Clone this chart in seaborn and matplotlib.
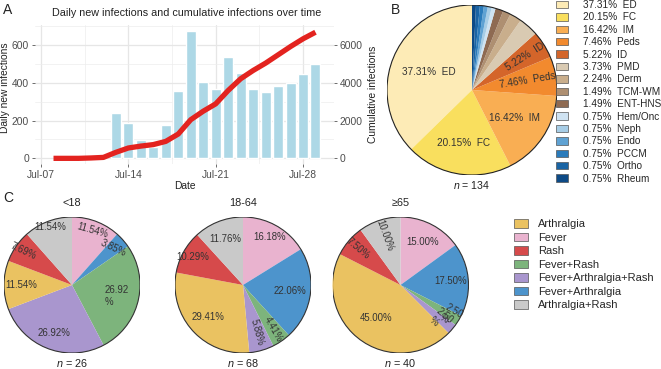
import numpy as np
import pandas as pd
import matplotlib
matplotlib.use("Agg")
import matplotlib.pyplot as plt
import seaborn as sns
from matplotlib.patches import Patch, Circle

# ---- data -------------------------------------------------------------
# panel A (day of July)
days_daily = list(range(13, 30))
daily_new = [241, 188, 98, 62, 177, 356, 673, 407, 368, 536, 452, 368, 351, 384, 400, 450, 498]
days_cum = list(range(8, 30))
cum_infections = [0, 0, 0, 20, 50, 320, 550, 650, 730, 900, 1290, 2050, 2500, 2890,
                  3600, 4220, 4660, 5050, 5490, 5930, 6340, 6690]
date_ticks = [7, 14, 21, 28]
date_labels = ["Jul-07", "Jul-14", "Jul-21", "Jul-28"]

# panel B (departments, n = 134)
dept_names = ["ED", "FC", "IM", "Peds", "ID", "PMD", "Derm", "TCM-WM", "ENT-HNS",
              "Hem/Onc", "Neph", "Endo", "PCCM", "Ortho", "Rheum"]
dept_counts = [50, 27, 22, 10, 7, 5, 3, 2, 2, 1, 1, 1, 1, 1, 1]
dept_colors = ["#FDEBB6", "#F9DF5E", "#F9AE53", "#F28A2E", "#D4652A", "#D9CAB2",
               "#C9AE8C", "#AE8F71", "#8E6A52", "#CFE3F2", "#A7CDE6", "#5FA2D3",
               "#2A7BBB", "#1A64A4", "#0D4A86"]

# panel C (symptoms by age group)
symptoms = ["Arthralgia", "Fever", "Rash", "Fever+Rash", "Fever+Arthralgia+Rash",
            "Fever+Arthralgia", "Arthralgia+Rash"]
symptom_colors = ["#EAC261", "#E9B3CF", "#D64A4B", "#7DB47C", "#A996CE", "#4D94CC", "#C9C9C9"]
age_groups = ["<18", "18-64", "≥65"]
counts_lt18 = [3, 3, 2, 7, 7, 1, 3]
counts_18_64 = [20, 11, 7, 3, 4, 15, 8]
counts_ge65 = [18, 6, 3, 1, 1, 7, 4]
pie_order = ["Fever", "Fever+Arthralgia", "Fever+Rash", "Fever+Arthralgia+Rash",
             "Arthralgia", "Rash", "Arthralgia+Rash"]

# ---- style ------------------------------------------------------------
sns.set_theme(style="white")
plt.rcParams["font.family"] = ["Liberation Sans", "DejaVu Sans"]
plt.rcParams["mathtext.fontset"] = "custom"
plt.rcParams["mathtext.it"] = "Liberation Sans:italic"
plt.rcParams["mathtext.rm"] = "Liberation Sans"

W, H = 661, 369
fig = plt.figure(figsize=(W / 100, H / 100), dpi=100)


def box(x0, y0, x1, y1):
    # pixel box (top-left origin) -> figure fraction
    return [x0 / W, 1 - y1 / H, (x1 - x0) / W, (y1 - y0) / H]


FS = 7.4
TXT = "#222222"

# ---- panel A ----------------------------------------------------------
ax = fig.add_axes(box(34.8, 24.5, 334.2, 164))
df_daily = pd.DataFrame({"day": days_daily, "new": daily_new})
sns.barplot(data=df_daily, x="day", y="new", native_scale=True, color="#ADD8E6",
            saturation=1, width=0.8, errorbar=None, ax=ax)
ax2 = ax.twinx()
sns.lineplot(x=days_cum, y=cum_infections, color="#E3231F", lw=3.8, ax=ax2,
             solid_capstyle="butt", solid_joinstyle="round")

ax.set_xlim(6.5, 30.5)
ax.set_ylim(-30, 710)
ax2.set_ylim(-300, 7100)
ax.set_xticks(date_ticks)
ax.set_xticklabels(date_labels)
ax.set_xticks([10.5, 17.5, 24.5], minor=True)
ax.set_yticks([0, 200, 400, 600])
ax.set_yticks([100, 300, 500, 700], minor=True)
ax2.set_yticks([0, 2000, 4000, 6000])
ax.grid(which="major", color="#E6E6E6", lw=0.9)
ax.grid(which="minor", color="#EDEDED", lw=0.5)
ax.set_axisbelow(True)
ax2.grid(False)
for a in (ax, ax2):
    for s in a.spines.values():
        s.set_visible(False)
    a.tick_params(which="major", length=2.5, width=0.6, color="#555555", pad=1.5,
                  labelsize=FS, labelcolor="#4D4D4D")
    a.tick_params(which="minor", length=0)
ax.tick_params(axis="x", bottom=True)
ax.tick_params(axis="y", left=True)
ax2.tick_params(axis="y", right=True)
ax.set_xlabel("Date", fontsize=FS, color=TXT, labelpad=1)
ax.set_ylabel("Daily new infections", fontsize=FS, color=TXT)
ax.yaxis.set_label_coords((10 - 34.8) / 299.4, 0.55)
ax2.set_ylabel("Cumulative infections", fontsize=FS, color=TXT, labelpad=4)
fig.text(187 / W, 1 - 13 / H, "Daily new infections and cumulative infections over time",
         fontsize=7.75, color=TXT, ha="center", va="center")

# ---- panel B ----------------------------------------------------------
axb = fig.add_axes(box(387, 5, 557, 175))
wedges, _ = axb.pie(dept_counts, colors=dept_colors, startangle=90, counterclock=True,
                    wedgeprops=dict(linewidth=0))
axb.add_patch(Circle((0, 0), 1, fill=False, ec="#222222", lw=0.8))
axb.set_xlim(-1, 1)
axb.set_ylim(-1, 1)
total_b = sum(dept_counts)
label_r_b = [0.55, 0.63, 0.6, 0.66, 0.74]
for i, w in enumerate(wedges[:5]):
    mid = (w.theta1 + w.theta2) / 2
    pct = dept_counts[i] / total_b * 100
    rot = 0
    if pct < 10:
        rot = (mid + 90) % 180 - 90
    axb.text(label_r_b[i] * np.cos(np.radians(mid)), label_r_b[i] * np.sin(np.radians(mid)),
             f"{pct:.2f}%  {dept_names[i]}", ha="center", va="center",
             rotation=rot, fontsize=7.2, color="#333333")
axb.text(0, -1.12, "$n$ = 134", ha="center", va="center", fontsize=7.6, color=TXT)

handles_b = [Patch(facecolor=c, edgecolor="#555555", lw=0.5) for c in dept_colors]
labels_b = [f"{c / total_b * 100:.2f}%  {n}" for c, n in zip(dept_counts, dept_names)]
fig.legend(handles_b, labels_b, loc="upper left", bbox_to_anchor=(556 / W, 1 - 0 / H),
           frameon=False, fontsize=7.2, handlelength=1.2, handleheight=0.75,
           handletextpad=1.5, labelspacing=0.24, borderaxespad=0, borderpad=0)

# ---- panel C ----------------------------------------------------------
group_counts = [counts_lt18, counts_18_64, counts_ge65]
centers_x = [72, 243, 400.5]
R = 68
# per-label rotation / radius / wrapped "%" in pie order
label_rot = [[-16, -25, 0, 0, 0, -25, 0],
             [0, 0, -60, -75, 0, 0, 0],
             [0, 0, -30, -40, 0, -40, -70]]
label_r = [[0.86, 0.81, 0.68, 0.75, 0.74, 0.87, 0.91],
           [0.80, 0.69, 0.79, 0.73, 0.69, 0.85, 0.73],
           [0.71, 0.74, 0.87, 0.79, 0.60, 0.82, 0.77]]
label_wrap = [[2], [], [2, 3]]
color_of = dict(zip(symptoms, symptom_colors))

for g, (name, counts, cx) in enumerate(zip(age_groups, group_counts, centers_x)):
    axc = fig.add_axes(box(cx - R, 285 - R, cx + R, 285 + R))
    cnt = dict(zip(symptoms, counts))
    vals = [cnt[s] for s in pie_order]
    wedges, _, autotexts = axc.pie(vals, colors=[color_of[s] for s in pie_order],
                                   startangle=90, counterclock=False,
                                   autopct=lambda p: f"{p:.2f}%",
                                   textprops=dict(fontsize=6.9, color="#333333"),
                                   wedgeprops=dict(linewidth=0))
    axc.add_patch(Circle((0, 0), 1, fill=False, ec="#333333", lw=0.8))
    for k, (w, t) in enumerate(zip(wedges, autotexts)):
        mid = np.radians((w.theta1 + w.theta2) / 2)
        r = label_r[g][k]
        t.set_position((r * np.cos(mid), r * np.sin(mid)))
        t.set_rotation(label_rot[g][k])
        if k in label_wrap[g]:
            t.set_text(t.get_text().replace("%", "\n%"))
            t.set_multialignment("left")
    axc.set_xlim(-1, 1)
    axc.set_ylim(-1, 1)
    axc.text(0, 1.2, name, ha="center", va="center", fontsize=7.8, color=TXT)
    axc.text(0, -1.14, f"$n$ = {sum(counts)}", ha="center", va="center", fontsize=7.8, color=TXT)

handles_c = [Patch(facecolor=c, edgecolor="#555555", lw=0.5) for c in symptom_colors]
fig.legend(handles_c, symptoms, loc="upper left", bbox_to_anchor=(514 / W, 1 - 219 / H),
           frameon=False, fontsize=8, handlelength=1.3, handleheight=0.8,
           handletextpad=0.9, labelspacing=0.31, borderaxespad=0, borderpad=0)

# panel letters
fig.text(8 / W, 1 - 10 / H, "A", fontsize=10, color=TXT, ha="center", va="center")
fig.text(396 / W, 1 - 10 / H, "B", fontsize=10, color=TXT, ha="center", va="center")
fig.text(8 / W, 1 - 198 / H, "C", fontsize=10, color=TXT, ha="center", va="center")

fig.savefig("out.png", dpi=100)
